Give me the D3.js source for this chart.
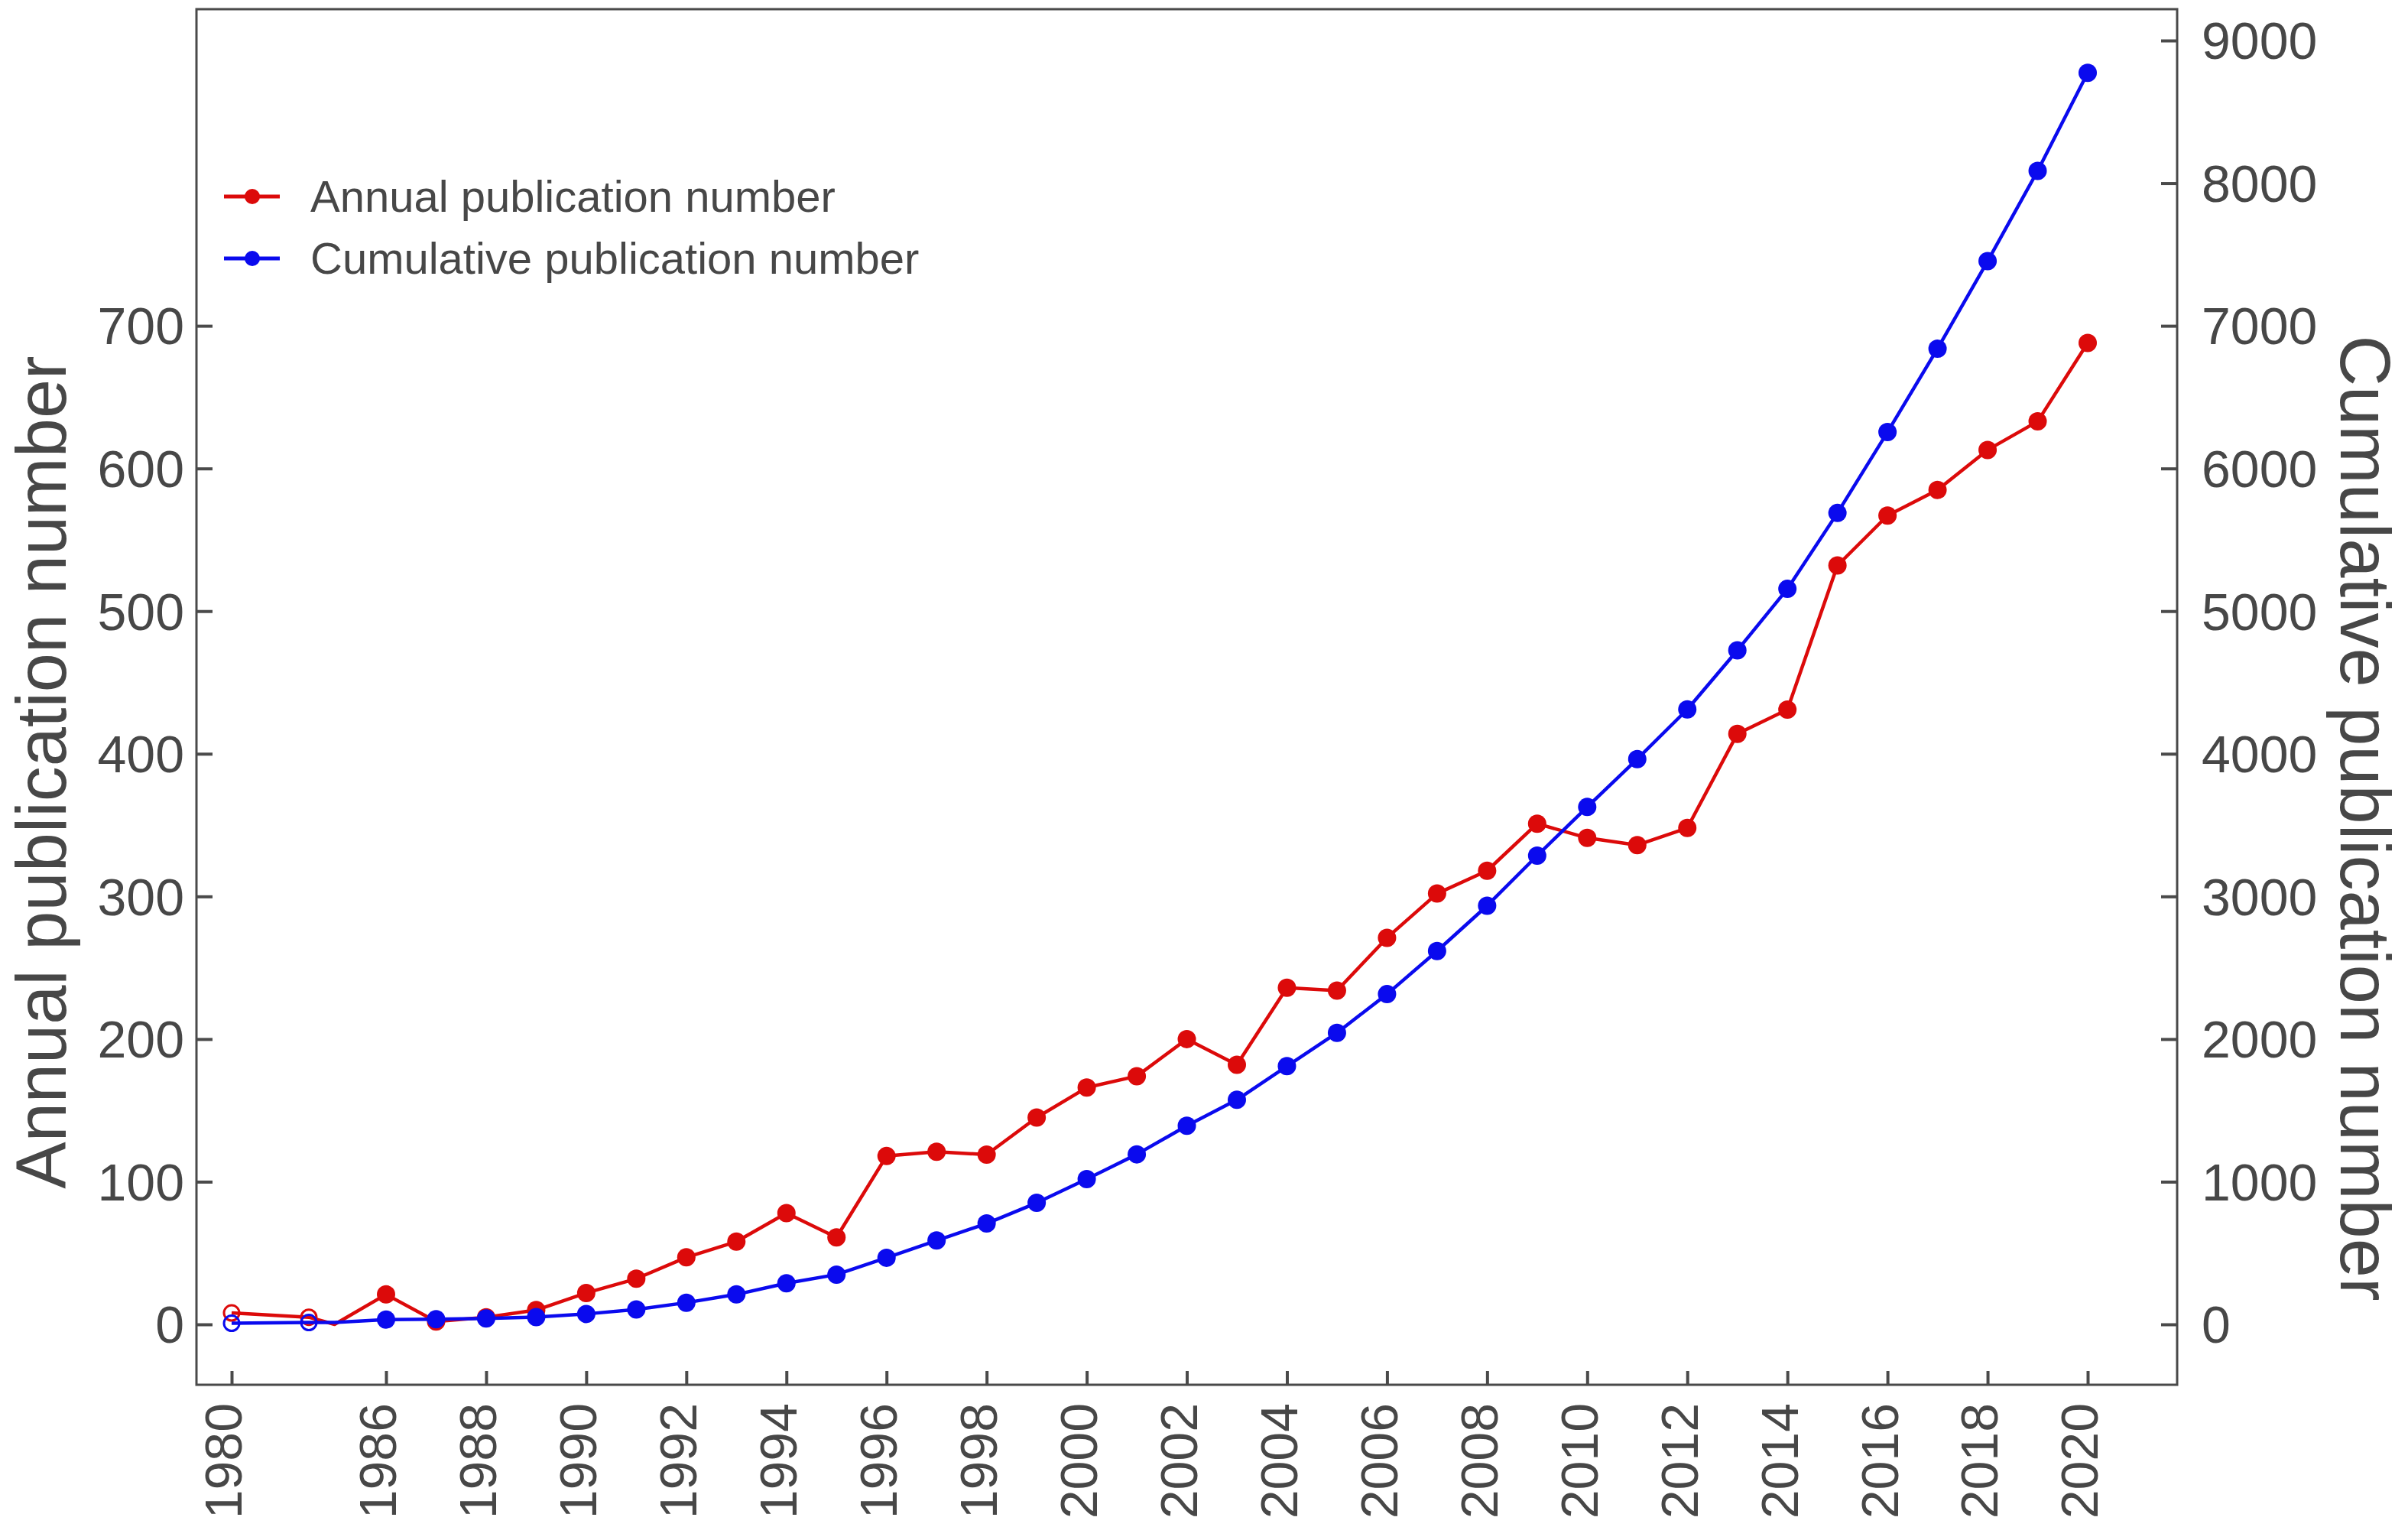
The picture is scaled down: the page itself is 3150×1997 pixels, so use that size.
<!DOCTYPE html>
<html>
<head>
<meta charset="utf-8">
<script src="https://cdn.jsdelivr.net/npm/d3@7"></script>
<style>
  html, body { margin: 0; padding: 0; background: #ffffff; }
  svg { display: block; }
  text { font-family: "Liberation Sans", Arial, sans-serif; fill: #474747; }
</style>
</head>
<body>
<svg id="chart" width="3150" height="1997"></svg>
<script>
// ---------- data ----------
const years = [1980, 1983, 1984, 1986, 1987, 1988, 1989, 1990, 1991, 1992, 1993, 1994, 1995,
  1996, 1997, 1998, 1999, 2000, 2001, 2002, 2003, 2004, 2005, 2006, 2007, 2008, 2009,
  2010, 2011, 2012, 2013, 2014, 2015, 2016, 2017, 2018, 2019, 2020];
const annual = [8, 5, 0, 21, 2, 5, 10, 22, 32, 47, 58, 78, 61,
  118, 121, 119, 145, 166, 174, 200, 182, 236, 234, 271, 302, 318, 351,
  341, 336, 348, 414, 431, 532, 567, 585, 613, 633, 688];
const cumulative = [8, 13, 13, 34, 36, 41, 51, 73, 105, 152, 210, 288, 349,
  467, 588, 707, 852, 1018, 1192, 1392, 1574, 1810, 2044, 2315, 2617, 2935, 3286,
  3627, 3963, 4311, 4725, 5156, 5688, 6255, 6840, 7453, 8086, 8774];
const hollowYears = [1980, 1983];
const unmarkedYears = [1984];
const xTickYears = [1980, 1986, 1988, 1990, 1992, 1994, 1996, 1998, 2000, 2002, 2004,
  2006, 2008, 2010, 2012, 2014, 2016, 2018, 2020];
const leftTicks = [0, 100, 200, 300, 400, 500, 600, 700];
const rightTicks = [0, 1000, 2000, 3000, 4000, 5000, 6000, 7000, 8000, 9000];
const seriesNames = ["Annual publication number", "Cumulative publication number"];
const seriesColors = ["#dc0a0a", "#0a0aee"];
const leftTitle = "Annual publication number";
const rightTitle = "Cumulative publication number";

// ---------- layout ----------
const frame = { left: 257, right: 2848, top: 12, bottom: 1811 };
const axisColor = "#4a4a4a";

const svg = d3.select("#chart");
svg.append("rect").attr("width", 3150).attr("height", 1997).attr("fill", "#fff");

// x is a broken (compressed) axis between 1980 and 1986
const x = d3.scaleLinear().domain([1980, 1986, 2020]).range([303, 505, 2731]);
const yL = d3.scaleLinear().domain([0, 900]).range([1732, 53]);
const yR = d3.scaleLinear().domain([0, 9000]).range([1732, 53]);

// frame
svg.append("rect")
  .attr("x", frame.left).attr("y", frame.top)
  .attr("width", frame.right - frame.left).attr("height", frame.bottom - frame.top)
  .attr("fill", "none").attr("stroke", axisColor).attr("stroke-width", 3);

// left axis
const gL = svg.append("g").attr("transform", `translate(${frame.left},0)`)
  .call(d3.axisRight(yL).tickValues(leftTicks).tickSize(21).tickFormat(d3.format("d")));
gL.select(".domain").remove();
gL.selectAll(".tick line").attr("stroke", axisColor).attr("stroke-width", 4);
gL.selectAll(".tick text")
  .attr("x", -16).attr("text-anchor", "end").attr("dy", "0.35em")
  .style("font-size", "68px").style("fill", "#474747");

// right axis
const gR = svg.append("g").attr("transform", `translate(${frame.right},0)`)
  .call(d3.axisLeft(yR).tickValues(rightTicks).tickSize(21).tickFormat(d3.format("d")));
gR.select(".domain").remove();
gR.selectAll(".tick line").attr("stroke", axisColor).attr("stroke-width", 4);
gR.selectAll(".tick text")
  .attr("x", 32).attr("text-anchor", "start").attr("dy", "0.35em")
  .style("font-size", "68px").style("fill", "#474747");

// bottom axis
const gB = svg.append("g").attr("transform", `translate(0,${frame.bottom})`)
  .call(d3.axisTop(x).tickValues(xTickYears).tickSize(18).tickFormat(d3.format("d")));
gB.select(".domain").remove();
gB.selectAll(".tick line").attr("stroke", axisColor).attr("stroke-width", 4);
gB.selectAll(".tick text")
  .attr("x", 0).attr("y", 0)
  .attr("transform", "translate(0,24) rotate(-90)")
  .attr("text-anchor", "end").attr("dy", "0.19em")
  .style("font-size", "68px").style("fill", "#474747");

// axis titles
svg.append("text")
  .attr("transform", `translate(86,1010) rotate(-90)`)
  .attr("text-anchor", "middle")
  .style("font-size", "92px")
  .text(leftTitle);
svg.append("text")
  .attr("transform", `translate(3062,1070) rotate(90)`)
  .attr("text-anchor", "middle")
  .style("font-size", "92px")
  .text(rightTitle);

// series
const rows = years.map((yr, i) => ({ year: yr, annual: annual[i], cumulative: cumulative[i] }));
const series = [
  { key: "annual", scale: yL, color: seriesColors[0] },
  { key: "cumulative", scale: yR, color: seriesColors[1] }
];

series.forEach(s => {
  const line = d3.line().x(d => x(d.year)).y(d => s.scale(d[s.key]));
  const g = svg.append("g");
  g.append("path").datum(rows)
    .attr("d", line)
    .attr("fill", "none").attr("stroke", s.color).attr("stroke-width", 4.5)
    .attr("stroke-linejoin", "round");
  g.selectAll("circle")
    .data(rows.filter(d => !unmarkedYears.includes(d.year)))
    .join("circle")
    .attr("cx", d => x(d.year)).attr("cy", d => s.scale(d[s.key]))
    .attr("r", d => hollowYears.includes(d.year) ? 10 : 12)
    .attr("fill", d => hollowYears.includes(d.year) ? "none" : s.color)
    .attr("stroke", s.color)
    .attr("stroke-width", d => hollowYears.includes(d.year) ? 3 : 0);
});

// legend
const legend = svg.append("g");
seriesNames.forEach((name, i) => {
  const ly = 257 + i * 81;
  legend.append("line")
    .attr("x1", 293).attr("x2", 366).attr("y1", ly).attr("y2", ly)
    .attr("stroke", seriesColors[i]).attr("stroke-width", 5);
  legend.append("circle")
    .attr("cx", 330).attr("cy", ly).attr("r", 10).attr("fill", seriesColors[i]);
  legend.append("text")
    .attr("x", 406).attr("y", ly).attr("dy", "0.35em")
    .style("font-size", "58px")
    .text(name);
});
</script>
</body>
</html>
